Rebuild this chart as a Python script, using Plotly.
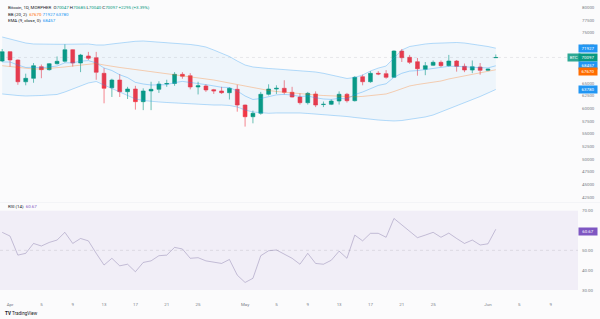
import plotly.graph_objects as go
import pandas as pd

# ---------------- data ----------------
dates = pd.date_range("2024-03-31", periods=64, freq="D")

open_ = [69400, 71240, 69600, 65300, 65980, 68280, 67690, 68870, 69340, 71630,
         69000, 70390, 70050, 66970, 64130, 65650, 63340, 63870, 61370, 63480,
         63810, 64860, 64960, 66770, 66500, 64270, 64470, 63740, 63480, 63140,
         63810, 60710, 58400, 59080, 62830, 63870, 64010, 63220, 62290, 61170,
         62890, 60800, 60850, 61500, 62830, 61560, 66300, 65310, 66970, 66900,
         66180, 71370, 70130, 69260, 67760, 68550, 69140, 68480, 69400, 68350,
         67620, 68220, 67560, 70047]
high = [71770, 71300, 69700, 66900, 69000, 68700, 69000, 70300, 72700, 71700,
        70800, 71200, 71200, 68000, 65900, 66800, 64300, 64500, 64000, 65300,
        65400, 65700, 67200, 67200, 67000, 65300, 64800, 63900, 64300, 64200,
        64700, 60800, 59600, 63300, 64800, 64600, 65600, 64300, 63000, 63300,
        63400, 61400, 61800, 63400, 63100, 66400, 66700, 67400, 67400, 67600,
        71500, 71770, 70600, 70000, 69200, 69500, 69500, 70600, 69600, 68900,
        69500, 69000, 67900, 70685]
low = [69200, 68300, 64700, 64600, 65100, 66000, 67500, 68700, 69100, 68300,
       67200, 69600, 65700, 61050, 62300, 62300, 61900, 59800, 59700, 59700,
       63100, 64300, 64500, 65900, 63800, 62800, 63300, 62900, 62900, 61800,
       59400, 56450, 57100, 58800, 62600, 62900, 62800, 62200, 60800, 60800,
       60300, 60300, 60700, 60800, 61200, 61400, 64600, 65100, 66600, 65900,
       66100, 69200, 68800, 66500, 66600, 68400, 68200, 68300, 67300, 67200,
       67000, 66700, 67400, 70040]
close = [71240, 69600, 65300, 65980, 68470, 67690, 68870, 69340, 71630, 69000,
         70580, 69930, 67170, 64010, 65650, 63340, 63870, 61370, 63480, 63810,
         64860, 64960, 66770, 66380, 64270, 64520, 63680, 63480, 63140, 64010,
         60710, 58400, 59080, 62830, 63870, 64010, 63220, 62290, 61170, 63020,
         60710, 60850, 61500, 62830, 61560, 66180, 65310, 66970, 66830, 66180,
         71370, 70050, 69140, 67880, 68480, 69140, 68480, 69400, 68350, 67620,
         68270, 67560, 67800, 70097]

bb_upper = [74140, 73740, 73350, 72950, 72760, 72700, 72700, 72700, 72700, 72720,
            72760, 72760, 72560, 72560, 72760, 72950, 73150, 73290, 73350, 73250,
            73150, 73050, 72950, 72850, 72660, 72460, 72160, 71570, 70980, 70290,
            69400, 68610, 68220, 68020, 67920, 67820, 67720, 67620, 67520, 67430,
            67230, 66970, 66640, 66240, 65950, 66140, 66640, 67430, 68000, 68410,
            70000, 71570, 72260, 72560, 72760, 72890, 72950, 73010, 73050, 72950,
            72760, 72560, 72260, 71927]
bb_basis = [68470, 68310, 68120, 67960, 67820, 67820, 67920, 68020, 68220, 68410,
            68610, 68810, 68910, 68610, 68310, 68120, 67920, 67720, 67520, 67330,
            67130, 66930, 66740, 66540, 66340, 66140, 65950, 65650, 65350, 65060,
            64760, 64370, 64070, 63770, 63580, 63380, 63220, 63080, 62940, 62830,
            62690, 62590, 62490, 62390, 62290, 62330, 62410, 62590, 62770, 62890,
            63380, 63970, 64470, 64760, 64960, 65250, 65450, 65850, 66140, 66440,
            66770, 67110, 67430, 67670]
bb_lower = [62890, 62690, 62590, 62490, 62490, 62590, 62690, 62790, 63280, 63870,
            64470, 65060, 65350, 64660, 63970, 63380, 62690, 61900, 61600, 61400,
            61310, 61210, 61110, 61110, 61010, 60910, 60810, 60710, 60710, 60620,
            60320, 59730, 59330, 59140, 59080, 59140, 59190, 59230, 59140, 59040,
            58940, 58840, 58740, 58640, 58440, 58250, 58050, 57850, 57750, 57650,
            57560, 57650, 57850, 58050, 58350, 58740, 59330, 59920, 60520, 61110,
            61800, 62390, 63080, 63780]
ema9 = [69200, 69200, 68610, 68120, 68160, 68060, 68220, 68410, 69040, 69040,
        69360, 69480, 69010, 68020, 67520, 66680, 66120, 65180, 64860, 64660,
        64700, 64720, 65140, 65370, 65160, 65020, 64740, 64480, 64210, 64170,
        63480, 62490, 61800, 62000, 62370, 62710, 62810, 62690, 62390, 62490,
        62140, 61900, 61820, 62020, 61920, 62770, 63280, 64010, 64580, 64900,
        66200, 66970, 67410, 67500, 67700, 68000, 68100, 68350, 68350, 68220,
        68220, 68080, 68040, 68457]
rsi = [59.1, 57.2, 47.6, 48.5, 53.5, 52.2, 54.0, 55.2, 59.1, 53.5,
       56.0, 54.8, 48.5, 42.6, 46.0, 42.2, 43.0, 39.2, 43.9, 44.7,
       47.3, 47.6, 51.5, 50.7, 46.0, 46.3, 44.7, 44.2, 43.4, 45.4,
       37.5, 33.8, 35.9, 47.3, 49.8, 50.2, 48.1, 46.0, 43.0, 48.5,
       43.4, 43.0, 45.0, 49.6, 46.0, 57.7, 54.8, 58.6, 58.6, 56.6,
       66.1, 62.8, 59.4, 56.4, 57.7, 59.1, 56.6, 58.7, 56.0, 53.5,
       55.2, 52.7, 53.3, 60.67]

price_ticks = [42500, 45000, 47500, 50000, 52500, 55000, 57500, 60000,
               62500, 65000, 67500, 70000, 72500, 75000, 77500, 80000]
rsi_ticks = [30, 40, 50, 60, 70]
x_tick_dates = ["2024-04-01", "2024-04-05", "2024-04-09", "2024-04-13", "2024-04-17",
                "2024-04-21", "2024-04-25", "2024-05-01", "2024-05-05", "2024-05-09",
                "2024-05-13", "2024-05-17", "2024-05-21", "2024-05-25", "2024-06-01",
                "2024-06-05", "2024-06-09"]
x_tick_text = ["Apr", "5", "9", "13", "17", "21", "25", "May", "5", "9",
               "13", "17", "21", "25", "Jun", "5", "9"]

last_close = 70097
last_rsi = 60.67

# ---------------- style ----------------
W, H = 600, 319
BG = "#fbfbfc"
GREEN = "#089981"
RED = "#F23645"
BLUE = "#2196F3"
ORANGE = "#FF6D00"
PURPLE = "#7E57C2"
TXT = "#131722"
AX = "#787b86"
FONT = "Roboto, Arial, sans-serif"
FS = 4.4

def py(p):  # pixel from top -> paper y
    return 1 - p / H

XR = ["2024-03-30 17:15", "2024-06-12 11:45"]
XDOM = [0, 578 / W]

fig = go.Figure()
fig.add_trace(go.Scatter(x=dates, y=bb_upper, mode="lines",
                         line=dict(color="rgba(33,150,243,0.55)", width=0.6),
                         xaxis="x", yaxis="y", hoverinfo="skip"))
fig.add_trace(go.Scatter(x=dates, y=bb_lower, mode="lines", fill="tonexty",
                         fillcolor="rgba(33,150,243,0.06)",
                         line=dict(color="rgba(33,150,243,0.55)", width=0.6),
                         xaxis="x", yaxis="y", hoverinfo="skip"))
fig.add_trace(go.Scatter(x=dates, y=bb_basis, mode="lines",
                         line=dict(color="rgba(255,109,0,0.5)", width=0.6),
                         xaxis="x", yaxis="y", hoverinfo="skip"))
fig.add_trace(go.Scatter(x=dates, y=ema9, mode="lines",
                         line=dict(color="rgba(33,150,243,0.6)", width=0.6),
                         xaxis="x", yaxis="y", hoverinfo="skip"))
fig.add_trace(go.Candlestick(
    x=dates, open=open_, high=high, low=low, close=close,
    increasing=dict(line=dict(color=GREEN, width=0.6), fillcolor=GREEN),
    decreasing=dict(line=dict(color=RED, width=0.6), fillcolor=RED),
    whiskerwidth=0, xaxis="x", yaxis="y"))
fig.add_trace(go.Scatter(x=dates, y=rsi, mode="lines",
                         line=dict(color="rgba(110,95,150,0.6)", width=0.6),
                         xaxis="x2", yaxis="y2", hoverinfo="skip"))

shapes = [
    dict(type="rect", xref="x2 domain", yref="y2", x0=0, x1=1, y0=30, y1=70,
         fillcolor="rgba(126,87,194,0.08)", line=dict(width=0), layer="below"),
    dict(type="line", xref="x2 domain", yref="y2", x0=0, x1=1, y0=50, y1=50,
         line=dict(color="rgba(120,123,134,0.35)", width=0.5, dash="dot")),
    dict(type="line", xref="x domain", yref="y", x0=0, x1=1, y0=last_close, y1=last_close,
         line=dict(color="rgba(120,123,134,0.25)", width=0.6, dash="dot")),
    dict(type="line", xref="paper", yref="paper", x0=0, x1=1, y0=py(202.5), y1=py(202.5),
         line=dict(color="rgba(224,227,235,0.5)", width=0.6)),
]

def g(v):
    return f"<span style='color:{GREEN}'>{v}</span>"

annotations = [
    dict(text=f"Bitcoin, 1D, MORPHER  O{g(open_[-1])} H{g(high[-1])} L{g(low[-1])} "
              f"C{g(close[-1])} {g('+2295 (+3.39%)')}",
         x=6 / W, y=py(7.5), xanchor="left", yanchor="middle"),
    dict(text=f"BB (20, 2)  <span style='color:{ORANGE}'>{bb_basis[-1]}</span> "
              f"<span style='color:{BLUE}'>{bb_upper[-1]}</span> "
              f"<span style='color:{BLUE}'>{bb_lower[-1]}</span>",
         x=6 / W, y=py(14.3), xanchor="left", yanchor="middle"),
    dict(text=f"EMA (9, close, 0)  <span style='color:{BLUE}'>{ema9[-1]}</span>",
         x=6 / W, y=py(20.5), xanchor="left", yanchor="middle"),
    dict(text=f"RSI (14)  <span style='color:{PURPLE}'>{last_rsi:.2f}</span>",
         x=6 / W, y=py(206), xanchor="left", yanchor="middle"),
    dict(text="<b>TV</b> TradingView", x=3 / W, y=py(313), xanchor="left", yanchor="middle",
         font=dict(size=4.6, color=TXT, family=FONT)),
]
for a in annotations:
    a.update(xref="paper", yref="paper", showarrow=False)
    a.setdefault("font", dict(size=FS, color=TXT, family=FONT))

def tag(text, yp, color, x0=578, w=18):
    return dict(text=text, xref="paper", yref="paper", x=x0 / W, y=py(yp),
                xanchor="left", yanchor="middle", showarrow=False,
                bgcolor=color, width=w, height=6.5, borderpad=0,
                font=dict(size=FS, color="white", family=FONT))

annotations += [
    tag(f"{bb_upper[-1]}", 48.3, BLUE),
    tag("BTC", 57.7, "rgba(8,153,129,0.85)", x0=566.5, w=11.5),
    tag(f"{last_close}", 57.7, GREEN),
    tag(f"{ema9[-1]}", 65.7, BLUE),
    tag(f"{bb_basis[-1]}", 71.7, ORANGE),
    tag(f"{bb_lower[-1]}", 90.0, BLUE),
    tag(f"{last_rsi:.2f}", 231.7, PURPLE),
]

axis_common = dict(showgrid=False, zeroline=False, showline=False, ticks="",
                   tickfont=dict(size=FS, color=AX, family=FONT))

fig.update_layout(
    width=W, height=H, margin=dict(l=0, r=0, t=0, b=0, pad=0),
    paper_bgcolor=BG, plot_bgcolor=BG, showlegend=False,
    font=dict(family=FONT, size=FS, color=TXT),
    xaxis=dict(domain=XDOM, range=XR, type="date", anchor="y", showticklabels=False,
               rangeslider=dict(visible=False), **axis_common),
    xaxis2=dict(domain=XDOM, range=XR, type="date", anchor="y2", tickvals=x_tick_dates,
                ticktext=x_tick_text, ticklabelstandoff=5, **axis_common),
    yaxis=dict(domain=[py(203), 1], range=[41369, 81441], side="right", anchor="x",
               tickvals=price_ticks, ticktext=[str(v) for v in price_ticks],
               ticklabelstandoff=3, **axis_common),
    yaxis2=dict(domain=[py(296), py(203)], range=[26.97, 73.9], side="right", anchor="x2",
                tickvals=rsi_ticks, ticktext=[f"{v:.2f}" for v in rsi_ticks],
                ticklabelstandoff=3, **axis_common),
    shapes=shapes, annotations=annotations,
)

fig.write_html("out.html")
